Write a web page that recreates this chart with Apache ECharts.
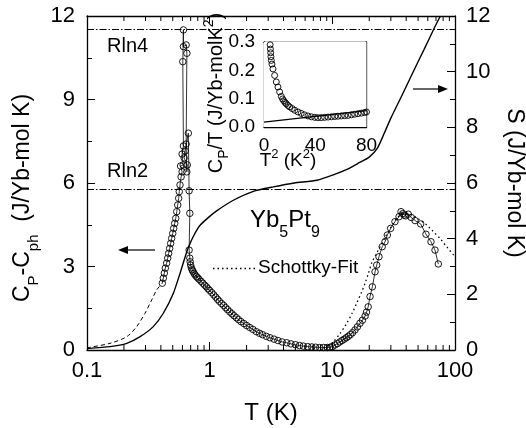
<!DOCTYPE html>
<html>
<head>
<meta charset="utf-8">
<script src="https://cdn.jsdelivr.net/npm/echarts@6/dist/echarts.min.js"></script>
<style>html,body{margin:0;background:#fff}#chart{width:526px;height:428px}</style>
</head>
<body>
<div id="chart"></div>
<script>
'use strict';
var FONT = '"Liberation Sans", Arial, sans-serif';

// Cp - Cph, open circles (left axis), in measuring order
var cT = [0.411,0.419,0.427,0.435,0.446,0.455,0.463,0.472,0.481,0.490,0.500,0.509,0.519,0.529,0.539,0.549,0.559,0.565,0.573,
	0.585,0.596,0.579,0.608,0.596,0.611,0.604,0.611,0.611,0.643,0.652,0.643,0.651,0.657,0.619,0.631,0.670,0.680,0.689,0.680,
	0.689,0.693,0.70,0.71,0.72,0.73,0.745,0.76,0.78,0.80,0.82,0.85,0.88,0.91,0.94,0.97,1.00,1.04,1.08,1.12,1.16,1.20,1.25,1.30,
	1.35,1.40,1.46,1.52,1.58,1.65,1.72,1.80,1.90,2.00,2.12,2.25,2.40,2.55,2.70,2.90,3.10,3.35,3.60,3.90,4.25,4.60,5.00,5.40,
	5.80,6.30,6.80,7.30,7.90,8.50,9.10,9.60,10.0,10.5,11.0,11.5,12.0,12.5,13.0,13.5,14.0,14.6,15.3,16.0,16.8,17.6,18.5,19.0,
	19.6,20.3,21.2,22.3,23.0,24.0,25.5,26.9,28.1,29.9,32.4,35.0,36.3,37.5,38.5,39.5,41.6,44.0,47.2,52.5,58.0,63.7,68.7,73.1];
var cVal = [2.40,2.58,2.76,2.94,3.12,3.30,3.47,3.65,3.83,4.01,4.19,4.37,4.55,4.73,4.97,5.21,5.45,5.69,5.93,
	6.22,6.40,6.61,6.65,7.04,7.33,10.36,11.50,10.90,10.96,10.66,7.40,6.40,6.65,6.90,7.15,7.79,5.72,4.91,3.59,
	3.30,3.17,3.05,2.95,2.88,2.83,2.76,2.70,2.64,2.59,2.54,2.47,2.40,2.33,2.27,2.20,2.14,2.06,1.98,1.90,1.82,1.75,1.67,1.60,
	1.52,1.45,1.37,1.30,1.23,1.16,1.09,1.02,0.95,0.88,0.81,0.74,0.66,0.60,0.55,0.49,0.44,0.39,0.34,0.29,0.26,0.22,0.19,0.16,
	0.14,0.12,0.11,0.10,0.09,0.09,0.09,0.10,0.12,0.18,0.23,0.29,0.34,0.39,0.44,0.49,0.55,0.62,0.72,0.83,0.96,1.07,1.22,1.36,
	1.55,1.92,2.27,2.81,3.05,3.35,3.71,3.89,4.13,4.37,4.61,4.79,4.97,4.90,4.85,4.82,4.88,4.76,4.65,4.53,4.16,3.89,3.59,3.09];

// dashed low-T extrapolation (left axis)
var extT = [0.1,0.154,0.211,0.254,0.297,0.337,0.37,0.411];
var extVal = [0.08,0.24,0.48,0.84,1.32,1.80,2.16,2.40];

// entropy S (right axis)
var sT = [0.1,0.154,0.211,0.271,0.347,0.419,0.506,0.574,0.642,0.675,0.75,0.836,1.0,1.14,1.56,2.27,3.3,4.9,7.5,10.3,13,16.1,20,23.3,26.4,30,36.5,46.5,56,67.8,76];
var sVal = [0.05,0.12,0.24,0.48,0.84,1.32,2.04,2.76,3.45,3.72,4.15,4.48,4.80,5.00,5.38,5.70,5.86,6.0,6.1,6.3,6.48,6.7,6.93,7.25,7.77,8.33,9.1,10.07,10.8,11.57,12.0];

// Schottky fit (left axis)
var fitT = [8.5,9.9,11.5,13.1,14.5,15.8,17.2,18.5,19.7,20.9,22.6,24.5,26.5,28.6,31,33.5,36.2,39.1,43,47.2,52.5,58.8,66,75.4,86,100];
var fitVal = [0.06,0.24,0.58,0.96,1.32,1.68,2.05,2.40,2.76,3.12,3.42,3.71,3.99,4.25,4.50,4.73,4.85,4.91,4.88,4.79,4.66,4.49,4.27,4.01,3.70,3.35];

// R ln2, R ln4 levels
var rlnVal = [11.53, 5.76];

// minor ticks of the log axis
var logMinor = [0.2,0.3,0.4,0.5,0.6,0.7,0.8,0.9,2,3,4,5,6,7,8,9,20,30,40,50,60,70,80,90];

// inset: Cp/T vs T^2
var inT2 = [4.6,4.8,5.0,5.2,5.4,5.7,6.2,7.0,8.3,9.6,10.9,12.2,13.5,14.5,15.4,16.4,17.4,18.7,20,22,24,26.5,29,31.5,34.3,37,39.6,42,44.7,47.3,50,52.6,55.2,57.8,60.4,63,65.6,68.2,70.8,73.4,76,78.5,80];
var inCT = [0.305,0.29,0.275,0.262,0.248,0.235,0.222,0.205,0.182,0.159,0.141,0.124,0.108,0.099,0.093,0.087,0.082,0.076,0.071,0.065,0.059,0.053,0.048,0.043,0.039,0.036,0.034,0.033,0.033,0.034,0.035,0.036,0.037,0.038,0.039,0.040,0.041,0.043,0.045,0.047,0.049,0.051,0.053];
var inLineT2 = [0, 80];
var inLineVal = [0.017, 0.058];

var pairs = function(a, b){
	return a.map(function(v, i){ return [v, b[i]]; });
};

var axisBase = function(extra){
	var o = {
		axisLine: { onZero: false, lineStyle: { color: '#000', width: 1.3 } },
		axisTick: { inside: true, length: 8, lineStyle: { color: '#000', width: 1 } },
		minorTick: { show: true, splitNumber: 2, length: 5, lineStyle: { color: '#000', width: 1 } },
		axisLabel: { color: '#000', fontFamily: FONT, fontSize: 22 },
		splitLine: { show: false },
		minorSplitLine: { show: false }
	};
	for (var k in extra) {
		if (typeof extra[k] === 'object' && o[k] && !Array.isArray(extra[k])) {
			o[k] = Object.assign({}, o[k], extra[k]);
		} else {
			o[k] = extra[k];
		}
	}
	return o;
};

var sub = { fontSize: 15, fontFamily: FONT, fill: '#000', padding: [22, 0, 0, 0], verticalAlign: 'middle' };
var sup = { fontSize: 14, fontFamily: FONT, fill: '#000', padding: [0, 0, 14, 0], verticalAlign: 'middle' };

var txt = function(x, y, text, size, opts){
	opts = opts || {};
	return {
		type: 'text', x: x, y: y, rotation: opts.rotation || 0, z: 100, silent: true,
		style: {
			text: text, fill: '#000', fontSize: size, fontFamily: FONT,
			align: opts.align || 'left', verticalAlign: 'middle',
			rich: opts.rich || {}
		}
	};
};

var chart = echarts.init(document.getElementById('chart'));

var option = {
	animation: false,
	backgroundColor: '#fff',
	grid: [
		{ left: 87, top: 16, width: 368, height: 334 },
		{ left: 264, top: 42, width: 102.5, height: 85, show: true, backgroundColor: '#fff', borderWidth: 0, z: 3 }
	],
	xAxis: [
		axisBase({ gridIndex: 0, type: 'log', logBase: 10, min: 0.1, max: 100, position: 'bottom',
			minorTick: { show: false }, axisLabel: { margin: 10 } }),
		axisBase({ gridIndex: 0, type: 'log', logBase: 10, min: 0.1, max: 100, position: 'top',
			minorTick: { show: false }, axisLabel: { show: false } }),
		axisBase({ gridIndex: 1, type: 'value', min: 0, max: 80, interval: 40, position: 'bottom',
			axisTick: { length: 5 }, minorTick: { length: 5 }, axisLabel: { fontSize: 19, margin: 9 } }),
		axisBase({ gridIndex: 1, type: 'value', min: 0, max: 80, interval: 40, position: 'top',
			axisTick: { length: 5 }, minorTick: { length: 5 }, axisLabel: { show: false } })
	],
	yAxis: [
		axisBase({ gridIndex: 0, type: 'value', min: 0, max: 12, interval: 3, position: 'left',
			axisLabel: { margin: 12 } }),
		axisBase({ gridIndex: 0, type: 'value', min: 0, max: 12, interval: 2, position: 'right',
			axisLabel: { margin: 11 } }),
		axisBase({ gridIndex: 1, type: 'value', min: 0, max: 0.3, interval: 0.1, position: 'left',
			axisTick: { length: 5 }, minorTick: { length: 4 },
			axisLabel: { fontSize: 19, margin: 9, formatter: function(v){ return v.toFixed(1); } } }),
		axisBase({ gridIndex: 1, type: 'value', min: 0, max: 0.3, interval: 0.1, position: 'right',
			axisTick: { length: 5 }, minorTick: { length: 4 }, axisLabel: { show: false } })
	],
	series: [
		{
			name: 'Cp-Cph', type: 'line', xAxisIndex: 0, yAxisIndex: 0,
			data: pairs(cT, cVal), showAllSymbol: true,
			symbol: 'circle', symbolSize: 6.5,
			itemStyle: { color: 'rgba(255,255,255,0)', borderColor: '#000', borderWidth: 0.9 },
			lineStyle: { color: '#000', width: 0.8 }, z: 4
		},
		{
			name: 'extrapolation', type: 'line', xAxisIndex: 0, yAxisIndex: 0,
			data: pairs(extT, extVal), showSymbol: false, smooth: 0.3,
			lineStyle: { color: '#000', width: 1, type: [4, 3] }
		},
		{
			name: 'S', type: 'line', xAxisIndex: 0, yAxisIndex: 1,
			data: pairs(sT, sVal), showSymbol: false, smooth: 0.2,
			lineStyle: { color: '#000', width: 1.4 },
			markLine: {
				silent: true, symbol: 'none', label: { show: false },
				lineStyle: { color: '#000', width: 1, type: [7, 2, 1.5, 2] },
				data: rlnVal.map(function(v){ return { yAxis: v }; })
			}
		},
		{
			name: 'Schottky-Fit', type: 'line', xAxisIndex: 0, yAxisIndex: 0,
			data: pairs(fitT, fitVal), showSymbol: false, smooth: 0.3,
			lineStyle: { color: '#000', width: 1.3, type: [1.5, 3] }
		},
		{
			name: 'minor ticks', type: 'custom', xAxisIndex: 0, yAxisIndex: 0, silent: true, clip: false,
			data: logMinor.map(function(v){ return [v, 0]; }),
			renderItem: function(params, api){
				var b = api.coord([api.value(0), 0]);
				var t = api.coord([api.value(0), 12]);
				var st = { stroke: '#000', lineWidth: 1 };
				return { type: 'group', children: [
					{ type: 'line', shape: { x1: b[0], y1: b[1], x2: b[0], y2: b[1] - 5 }, style: st },
					{ type: 'line', shape: { x1: t[0], y1: t[1], x2: t[0], y2: t[1] + 5 }, style: st }
				] };
			}
		},
		{
			name: 'inset', type: 'line', xAxisIndex: 2, yAxisIndex: 2,
			data: pairs(inT2, inCT), showAllSymbol: true, z: 5,
			symbol: 'circle', symbolSize: 6,
			itemStyle: { color: 'rgba(255,255,255,0)', borderColor: '#000', borderWidth: 0.9 },
			lineStyle: { width: 0 }
		},
		{
			name: 'inset fit', type: 'line', xAxisIndex: 2, yAxisIndex: 2, z: 5,
			data: pairs(inLineT2, inLineVal), showSymbol: false,
			lineStyle: { color: '#000', width: 1.2 }
		}
	],
	graphic: [
		txt(23, 198, 'C{s|P}-C{s|ph}  (J/Yb-mol K)', 23, { align: 'center', rotation: Math.PI / 2, rich: { s: sub } }),
		txt(514, 183, 'S (J/Yb-mol K)', 23, { align: 'center', rotation: -Math.PI / 2 }),
		txt(271, 413, 'T (K)', 24, { align: 'center' }),
		txt(107, 46, 'Rln4', 20),
		txt(107, 171, 'Rln2', 20),
		txt(250, 220, 'Yb{s|5}Pt{s|9}', 24, { rich: { s: Object.assign({}, sub, { fontSize: 16, padding: [25, 0, 0, 0] }) } }),
		txt(258, 268, 'Schottky-Fit', 19),
		txt(216, 93, 'C{s|P}/T (J/Yb-molK{p|2})', 20, { align: 'center', rotation: Math.PI / 2,
			rich: { s: Object.assign({}, sub, { fontSize: 14, padding: [16, 0, 0, 0] }), p: sup } }),
		txt(288, 161, 'T{p|2} (K{p|2})', 19, { align: 'center', rich: { p: Object.assign({}, sup, { fontSize: 13 }) } }),
		{ type: 'line', silent: true, shape: { x1: 213, y1: 268.5, x2: 256, y2: 268.5 },
			style: { stroke: '#000', lineWidth: 1.3, lineDash: [1.5, 3] } },
		{ type: 'line', silent: true, shape: { x1: 155, y1: 250, x2: 126, y2: 250 }, style: { stroke: '#000', lineWidth: 1.2 } },
		{ type: 'polygon', silent: true, shape: { points: [[118, 250], [128, 246], [128, 254]] }, style: { fill: '#000' } },
		{ type: 'line', silent: true, shape: { x1: 413, y1: 89, x2: 440, y2: 89 }, style: { stroke: '#000', lineWidth: 1.2 } },
		{ type: 'polygon', silent: true, shape: { points: [[448, 89], [438, 85], [438, 93]] }, style: { fill: '#000' } }
	]
};

chart.setOption(option);
</script>
</body>
</html>
